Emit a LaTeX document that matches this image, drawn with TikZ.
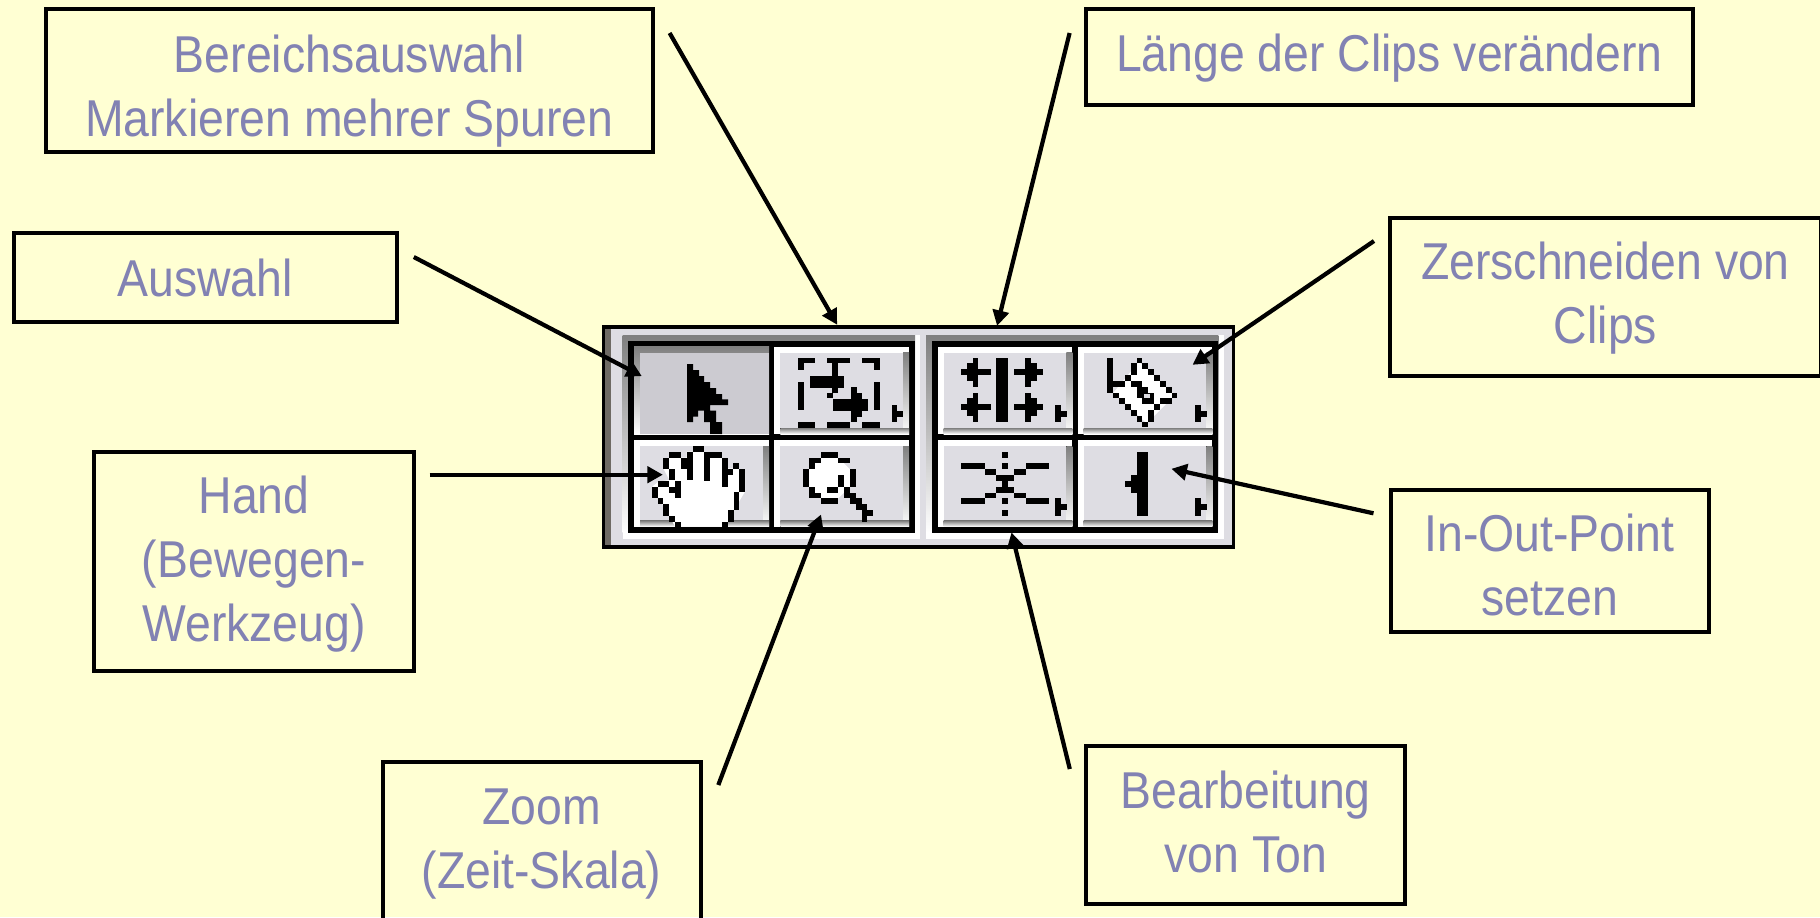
\documentclass[tikz,border=0pt]{standalone}
\usepackage{fontspec}
\setmainfont[FakeStretch=0.895]{Liberation Sans}
\usetikzlibrary{arrows.meta}
\definecolor{bgc}{HTML}{FFFFD3}
\definecolor{txtc}{HTML}{8282B3}
\definecolor{face}{HTML}{DEDDE3}
\definecolor{pressed}{HTML}{CCCBD1}
\definecolor{shade}{HTML}{9B9A9F}
\definecolor{band}{HTML}{6E6A64}
\newcommand\pxu{0.02cm}
\tikzset{
  tbox/.style={draw=black,line width=2.3pt,inner sep=0pt,outer sep=0pt,fill=none},
  tlabel/.style={text=txtc,font=\fontsize{29.5}{36.4}\selectfont,align=center,anchor=base,inner sep=0pt},
  conn/.style={draw=black,line width=2.4pt,-{Triangle[length=8.8pt,width=9.2pt]},shorten >=-0.5pt},
}
% fill rectangle helpers: \R{colour}{x1}{y1}{x2}{y2}
\newcommand\R[5]{\fill[#1] (#2,#3) rectangle (#4,#5);}
\newcommand\K[4]{\fill[black] (#1,#2) rectangle (#3,#4);}
\newcommand\raised[4]{% x1 y1 x2 y2
  \R{face}{#1}{#2}{#3}{#4}
  \R{white}{#1}{#2}{#3}{#2+18}
  \R{white}{#1}{#2}{#1+18}{#4}
  \R{shade}{#3-18}{#2+18}{#3}{#4}
  \R{shade}{#1+18}{#4-18}{#3}{#4}
}
\begin{document}
\begin{tikzpicture}[x=0.02cm,y=-0.02cm]
\path[use as bounding box] (0,0) rectangle (1820,917);
\clip (0,0) rectangle (1820,917);
\fill[bgc] (0,0) rectangle (1820,917);

% ---------- toolbar ----------
\begin{scope}[shift={(590,310)},scale=1/3]
  \K{35}{45}{1935}{716}
  \R{face}{46}{56}{1925}{705}
  \R{band}{46}{56}{62}{705}
  % left group
  \R{white}{98}{75}{990}{686}
  \R{shade}{98}{75}{975}{668}
  \K{115}{93}{975}{668}
  % pressed cell
  \R{shade}{132}{110}{537}{372}
  \R{pressed}{150}{128}{537}{372}
  \raised{553}{110}{957}{372}
  \raised{132}{390}{537}{650}
  \raised{553}{390}{957}{650}
  % marquee icon
  \K{625}{145}{675}{160}\K{625}{160}{643}{180}
  \K{712}{145}{780}{160}\K{727}{160}{745}{198}
  \K{817}{145}{870}{160}\K{852}{160}{870}{180}
  \K{625}{215}{643}{300}\K{852}{215}{870}{300}
  \K{625}{337}{675}{353}\K{712}{337}{780}{353}\K{817}{337}{870}{353}
  \K{660}{198}{762}{233}\K{727}{233}{745}{250}\K{712}{250}{730}{265}
  \K{730}{267}{835}{302}\K{782}{232}{800}{337}\K{800}{250}{817}{320}
  \K{905}{285}{922}{337}\K{922}{302}{940}{320}
  % hand icon
  \fill[white] (238,443)--(290,443)--(290,425)--(343,425)--(395,443)--(415,475)--(447,475)--(465,490)--(465,545)--(432,600)--(415,635)--(395,650)--(255,650)--(237,615)--(205,565)--(187,530)--(205,515)--(238,510)--(220,475)--cycle;
  \K{308}{408}{343}{425}\K{238}{425}{273}{443}\K{290}{425}{308}{443}\K{343}{425}{395}{443}
  \K{220}{443}{238}{478}\K{273}{443}{308}{478}\K{290}{478}{308}{510}
  \K{343}{443}{360}{512}\K{395}{443}{413}{530}
  \K{430}{460}{447}{478}\K{413}{478}{430}{495}\K{447}{478}{465}{545}
  \K{432}{545}{447}{600}\K{413}{600}{432}{635}\K{395}{635}{413}{650}
  \K{238}{478}{255}{510}\K{205}{513}{238}{530}\K{187}{530}{205}{565}
  \K{205}{565}{220}{582}\K{220}{582}{238}{617}\K{238}{617}{255}{635}\K{255}{635}{273}{650}
  \K{255}{513}{273}{565}\K{238}{530}{255}{548}
  % magnifier icon
  \fill[white] (692,443)--(745,443)--(780,478)--(780,530)--(745,565)--(692,565)--(657,530)--(657,478)--cycle;
  \K{692}{425}{745}{443}\K{657}{443}{692}{460}\K{745}{443}{780}{460}\K{657}{460}{675}{478}
  \K{640}{478}{657}{530}\K{780}{478}{797}{530}\K{657}{530}{675}{565}\K{675}{548}{692}{565}
  \K{692}{565}{745}{582}\K{745}{495}{762}{530}\K{710}{530}{745}{548}\K{762}{530}{780}{548}
  \K{762}{548}{797}{565}\K{780}{565}{815}{582}\K{797}{582}{832}{600}\K{815}{600}{850}{618}\K{815}{618}{832}{635}
\end{scope}

\begin{scope}[shift={(630,340)},scale=1/3]
  \fill[black] (171,72)--(189,72)--(189,90)--(207,90)--(207,108)--(222,108)--(222,126)--(240,126)--(240,144)--(258,144)--(258,162)--(276,162)--(276,178)--(294,178)--(294,195)--(240,195)--(240,212)--(258,212)--(258,246)--(276,246)--(276,282)--(240,282)--(240,246)--(222,246)--(222,212)--(204,212)--(204,230)--(189,230)--(189,246)--(171,246)--cycle;
\end{scope}

\begin{scope}[shift={(910,310)},scale=1/3]
  % right group
  \R{white}{48}{75}{942}{686}
  \R{shade}{48}{75}{925}{668}
  \K{65}{93}{925}{668}
  \raised{83}{110}{487}{372}
  \raised{503}{110}{907}{372}
  \raised{83}{390}{487}{650}
  \raised{503}{390}{907}{650}
  % length icon
  \K{258}{143}{293}{335}
  \K{153}{178}{243}{195}\K{170}{160}{188}{213}\K{188}{143}{205}{230}
  \K{312}{178}{398}{195}\K{345}{143}{363}{230}\K{363}{160}{381}{213}
  \K{153}{283}{243}{300}\K{170}{265}{188}{318}\K{188}{248}{205}{335}
  \K{312}{283}{398}{300}\K{345}{248}{363}{335}\K{363}{265}{381}{318}
  \K{436}{285}{453}{337}\K{453}{302}{470}{320}
  % razor icon
  \fill[white] (687,155)--(795,255)--(710,340)--(610,248)--cycle;
  \K{592}{143}{609}{248}\K{609}{213}{645}{230}
  \K{680}{143}{697}{160}\K{697}{160}{715}{178}\K{715}{178}{732}{195}\K{732}{195}{750}{213}
  \K{750}{213}{767}{230}\K{767}{230}{785}{248}\K{785}{248}{802}{265}
  \K{750}{265}{785}{283}\K{732}{283}{750}{300}\K{715}{300}{732}{335}\K{697}{335}{715}{352}
  \K{609}{248}{627}{265}\K{627}{265}{645}{283}\K{645}{283}{662}{300}\K{662}{300}{680}{318}\K{680}{318}{697}{335}
  \K{662}{160}{680}{195}\K{645}{195}{662}{213}
  \K{662}{213}{697}{230}\K{680}{230}{715}{248}\K{697}{248}{732}{265}\K{680}{248}{697}{265}\K{697}{265}{732}{283}
  \fill[face] (702,252) rectangle (720,265);
  \K{856}{285}{873}{337}\K{873}{302}{891}{320}
  % audio icon
  \K{276}{425}{294}{443}\K{276}{460}{294}{478}
  \K{153}{460}{225}{478}\K{348}{460}{417}{478}
  \K{225}{478}{258}{495}\K{312}{478}{348}{495}
  \K{258}{495}{312}{513}\K{276}{513}{294}{530}\K{258}{530}{312}{548}
  \K{225}{548}{258}{565}\K{312}{548}{348}{565}
  \K{153}{565}{225}{582}\K{348}{565}{417}{582}
  \K{276}{565}{294}{582}\K{276}{600}{294}{618}
  \K{436}{565}{453}{618}\K{453}{582}{470}{600}
  % in-out icon
  \K{680}{425}{715}{618}\K{662}{495}{680}{548}\K{645}{513}{662}{530}
  \K{856}{565}{873}{618}\K{873}{582}{891}{600}
\end{scope}

% ---------- boxes ----------
\node[tbox,minimum width=607.5*\pxu,minimum height=143*\pxu] (bereich) at (349.3,80.5) {};
\node[tbox,minimum width=607*\pxu,minimum height=96*\pxu] (laenge) at (1389.5,57) {};
\node[tbox,minimum width=383*\pxu,minimum height=89*\pxu] (auswahl) at (205.5,277.5) {};
\node[tbox,minimum width=431*\pxu,minimum height=158*\pxu] (zerschneiden) at (1605.5,297) {};
\node[tbox,minimum width=319.5*\pxu,minimum height=219*\pxu] (hand) at (254,561.2) {};
\node[tbox,minimum width=318.5*\pxu,minimum height=142*\pxu] (inout) at (1550,561) {};
\node[tbox,minimum width=319.5*\pxu,minimum height=158*\pxu] (bearbeitung) at (1245.7,825) {};
\node[tbox,minimum width=318*\pxu,minimum height=158*\pxu] (zoom) at (541.8,841) {};

% ---------- labels (anchored at last baseline) ----------
\node[tlabel] (bereichT) at (349.3,136) {Bereichsauswahl\\Markieren mehrer Spuren};
\node[tlabel] (laengeT) at (1389.5,71.7) {Länge der Clips verändern};
\node[tlabel] (auswahlT) at (205,296) {Auswahl};
\node[tlabel] (zerschneidenT) at (1605.5,343) {Zerschneiden von\\Clips};
\node[tlabel] (handT) at (254,641.7) {Hand\\(Bewegen-\\Werkzeug)};
\node[tlabel] (inoutT) at (1549.5,615.7) {In-Out-Point\\setzen};
\node[tlabel] (bearbeitungT) at (1245.7,872) {Bearbeitung\\von Ton};
\node[tlabel] (zoomT) at (541.5,888) {Zoom\\(Zeit-Skala)};

% ---------- connectors ----------
\coordinate (sB) at (669.6,33);   \coordinate (tB) at (836.7,324);
\coordinate (sL) at (1069.6,33);  \coordinate (tL) at (997.3,325);
\coordinate (sA) at (413.8,257);  \coordinate (tA) at (641,375.7);
\coordinate (sZ) at (1374,241);   \coordinate (tZ) at (1193.3,364.3);
\coordinate (sH) at (429.5,474.7);\coordinate (tH) at (662,474.7);
\coordinate (sO) at (718.3,785);  \coordinate (tO) at (820.7,515.3);
\coordinate (sT) at (1069.8,769); \coordinate (tT) at (1011.7,533.3);
\coordinate (sI) at (1373.5,513.3);\coordinate (tI) at (1172.3,469);
\draw[conn] (sB) -- (tB);
\draw[conn] (sL) -- (tL);
\draw[conn] (sA) -- (tA);
\draw[conn] (sZ) -- (tZ);
\draw[conn] (sH) -- (tH);
\draw[conn] (sO) -- (tO);
\draw[conn] (sT) -- (tT);
\draw[conn] (sI) -- (tI);
\end{tikzpicture}
\end{document}
